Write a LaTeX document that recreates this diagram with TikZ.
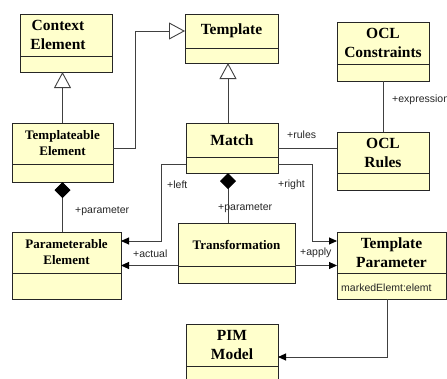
\documentclass[tikz,border=0pt]{standalone}
\usepackage{fontspec}
\setmainfont{Liberation Serif}
\setsansfont{Liberation Sans}
\usetikzlibrary{arrows.meta,calc}

\definecolor{classfill}{RGB}{255,255,204}
\definecolor{edgegray}{RGB}{64,64,64}

\tikzset{
  classbox/.style={draw=black!85, fill=classfill, line width=0.9pt, inner sep=0pt, outer sep=0pt},
  dividerline/.style={draw=black!85, line width=0.9pt},
  classtitle/.style={font=\bfseries\fontsize{15.5}{19}\selectfont, align=center, inner sep=0pt},
  smalltitle/.style={font=\bfseries\fontsize{13}{16}\selectfont},
  rolelabel/.style={font=\sffamily\fontsize{10.5}{12}\selectfont, anchor=west, inner sep=0pt, text=black!85},
  link/.style={draw=edgegray, line width=0.9pt},
  inherit/.style={link, -{Triangle[open, length=16pt, width=17pt, fill=white]}},
  navigate/.style={link, -{Triangle[length=8pt, width=7pt, color=black]}},
  compose/.style={link, {Diamond[length=16pt, width=16pt, color=black]}-},
}

% UML class: name, left, top, width, height, title height, title options, title
\newcommand{\umlclass}[8]{%
  \node[classbox, minimum width=#4pt, minimum height=#5pt, anchor=north west] (#1) at (#2,#3) {};
  \draw[dividerline] ([yshift=-#6pt]#1.north west) -- ([yshift=-#6pt]#1.north east);
  \node[classtitle, #7] (#1-title) at ($(#1.north)+(0,#6/2)$) {#8};
}

\begin{document}
\begin{tikzpicture}[x=1pt, y=-1pt]
  \useasboundingbox (0,0) rectangle (447,378);
  \clip (0,0) rectangle (447,378);

  % classes
  \umlclass{ctx}{20}{14}{92}{58}{42}{xshift=-8pt}{Context\\Element}
  \umlclass{template}{185}{14}{93}{49}{34}{}{Template}
  \umlclass{oclconst}{337}{22}{92}{59}{42}{}{OCL\\Constraints}
  \umlclass{tmplel}{12}{123}{101}{59}{41}{smalltitle}{Templateable\\Element}
  \umlclass{match}{186}{123}{92}{50}{34}{}{Match}
  \umlclass{oclrules}{337}{132}{92}{58}{41}{}{OCL\\Rules}
  \umlclass{paramel}{12}{232}{109}{67}{41}{smalltitle}{Parameterable\\Element}
  \umlclass{trans}{178}{223}{117}{60}{43}{smalltitle}{Transformation}
  \umlclass{tparam}{337}{232}{109}{67}{41}{}{Template\\Parameter}
  \umlclass{pim}{186}{324}{92}{66}{42}{}{PIM\\Model}

  \node[rolelabel] (tparam-attr) at (341,288) {markedElemt:elemt};

  % generalisations
  \draw[inherit] (tmplel.north) -- (tmplel.north |- ctx.south);
  \draw[inherit] ([yshift=4.5pt]tmplel.east) -- ++(22,0) |- (template.west |- template-title);
  \draw[inherit] ([xshift=-4pt]match.north) -- ([xshift=-4pt]match.north |- template.south);

  % associations
  \draw[link] (oclconst.south) -- (oclrules.north);
  \node[rolelabel] (lbl-expr) at (392,100) {+expression};

  \draw[link] (match.east) -- (match.east -| oclrules.west);
  \node[rolelabel] (lbl-rules) at (287,135) {+rules};

  \draw[navigate] ([yshift=-16pt]match.west) -- ++(-25,0) |- ([yshift=24.5pt]paramel.east);
  \node[rolelabel] (lbl-left) at (167,185) {+left};

  \draw[navigate] ([yshift=-16pt]match.east) -- ++(34,0) |- ([yshift=24.5pt]tparam.west);
  \node[rolelabel] (lbl-right) at (278,185) {+right};

  \draw[compose] ([xshift=-4pt]match.south) -- ([xshift=-4pt]match.south |- trans.north);
  \node[rolelabel] (lbl-param2) at (218,208) {+parameter};

  \draw[compose] (tmplel.south) -- (tmplel.south |- paramel.north);
  \node[rolelabel] (lbl-param1) at (75,211) {+parameter};

  \draw[navigate] (trans.west |- paramel.east) -- (paramel.east);
  \node[rolelabel] (lbl-actual) at (133,254) {+actual};

  \draw[navigate] (trans.east |- tparam.west) -- (tparam.west);
  \node[rolelabel] (lbl-apply) at (300,253) {+apply};

  \draw[navigate] ([xshift=-4.5pt]tparam.south) |- (pim.east);
\end{tikzpicture}
\end{document}
